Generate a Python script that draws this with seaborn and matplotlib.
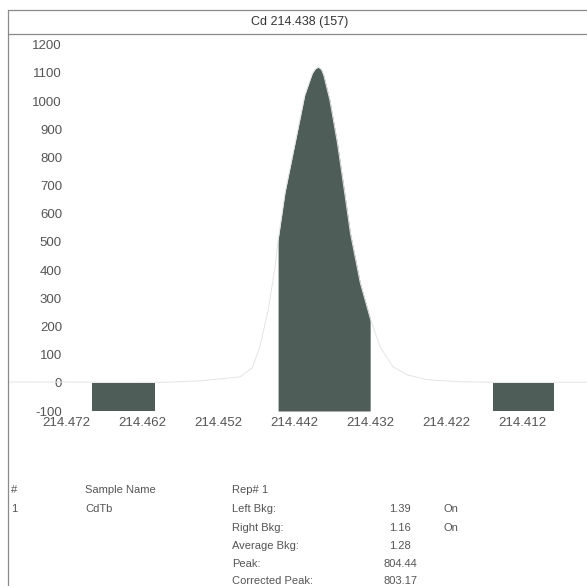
import numpy as np
import matplotlib
matplotlib.use("Agg")
import matplotlib.pyplot as plt
import seaborn as sns
from matplotlib.lines import Line2D

# values
title = "Cd 214.438 (157)"

# emission profile (wavelength nm, intensity)
wavelength = np.array([214.4796, 214.4592, 214.4544, 214.4491, 214.4475, 214.4465, 214.4454,
                       214.4445, 214.4441, 214.4432, 214.4416, 214.4406, 214.4396, 214.4392,
                       214.4388, 214.4384, 214.4381, 214.4373, 214.4363, 214.4354, 214.4346,
                       214.4333, 214.4320, 214.4307, 214.4290, 214.4271, 214.4245, 214.4202,
                       214.4158, 214.4035])
intensity = np.array([3, 2, 7, 21, 53, 128, 259, 411, 507, 674, 887, 1021, 1099, 1115,
                      1121, 1112, 1092, 1004, 851, 684, 532, 355, 230, 128, 57, 28, 11, 4,
                      2, 2])

peak_window = (214.4441, 214.4320)
left_bkg = (214.4685, 214.4603)
right_bkg = (214.4158, 214.4079)
bkg_top = 0
y_min, y_max = -100, 1242
x_lim = (214.4796, 214.4035)

x_ticks = [214.472, 214.462, 214.452, 214.442, 214.432, 214.422, 214.412]
y_ticks = list(range(-100, 1201, 100))

# results table
table_rows = [
    ("Left Bkg:", "1.39", "On"),
    ("Right Bkg:", "1.16", "On"),
    ("Average Bkg:", "1.28", ""),
    ("Peak:", "804.44", ""),
    ("Corrected Peak:", "803.17", ""),
]

sns.set_style("white")
plt.rcParams["font.family"] = ["Liberation Sans", "DejaVu Sans"]

fill_col = "#4e5d58"
txt_col = "#555555"
frame_col = "#8a8a8a"

fig = plt.figure(figsize=(5.87, 5.86), dpi=100)
W, H = 587, 586
ax = fig.add_axes([8 / W, 1 - 411 / H, 1 - 8 / W, (411 - 33) / H])

# thin full profile
sns.lineplot(x=wavelength, y=intensity, ax=ax, color="#e4e4e4", lw=0.7,
             sort=False, estimator=None)

# integrated peak area
tol = 1e-6
m = (wavelength <= peak_window[0] + tol) & (wavelength >= peak_window[1] - tol)
ax.fill_between(wavelength[m], y_min, intensity[m], color=fill_col, lw=0)

# background windows
for win in (left_bkg, right_bkg):
    ax.fill_between(list(win), y_min, bkg_top, color=fill_col, lw=0)

ax.set_xlim(*x_lim)
ax.set_ylim(y_min, y_max)
ax.set_xticks(x_ticks)
ax.set_xticklabels([f"{t:.3f}" for t in x_ticks])
ax.set_yticks(y_ticks)
ax.set_yticklabels([str(t) for t in y_ticks])
ax.tick_params(axis="y", length=0, pad=-38.9, labelsize=9.5, labelcolor=txt_col)
ax.tick_params(axis="x", length=0, pad=4.5, labelsize=9.5, labelcolor=txt_col)
for lab in ax.get_yticklabels():
    lab.set_horizontalalignment("right")
for s in ax.spines.values():
    s.set_visible(False)
ax.set_xlabel("")
ax.set_ylabel("")

# frame lines of the report
def fline(xs, ys):
    fig.add_artist(Line2D([x / W for x in xs], [1 - y / H for y in ys],
                          transform=fig.transFigure, color=frame_col, lw=0.9))

fline([8, 8], [10, 586])
fline([8, 587], [10, 10])
fline([8, 587], [34, 34])

fig.text(300 / W, 1 - 22 / H, title, ha="center", va="center", fontsize=9,
         color="#333333")

# table text
ts = 8
def ftext(x, y, s, ha="left"):
    fig.text(x / W, 1 - y / H, s, ha=ha, va="center", fontsize=ts, color=txt_col)

ftext(11, 490, "#")
ftext(85, 490, "Sample Name")
ftext(232, 490, "Rep# 1")
ftext(11, 509, "1")
ftext(85, 509, "CdTb")
row_y = [509, 528, 546, 564, 581]
for (lab, val, flag), y in zip(table_rows, row_y):
    ftext(232, y, lab)
    ftext(400, y, val, ha="center")
    if flag:
        ftext(443, y, flag)

fig.savefig("out.png", dpi=100, facecolor="white")
